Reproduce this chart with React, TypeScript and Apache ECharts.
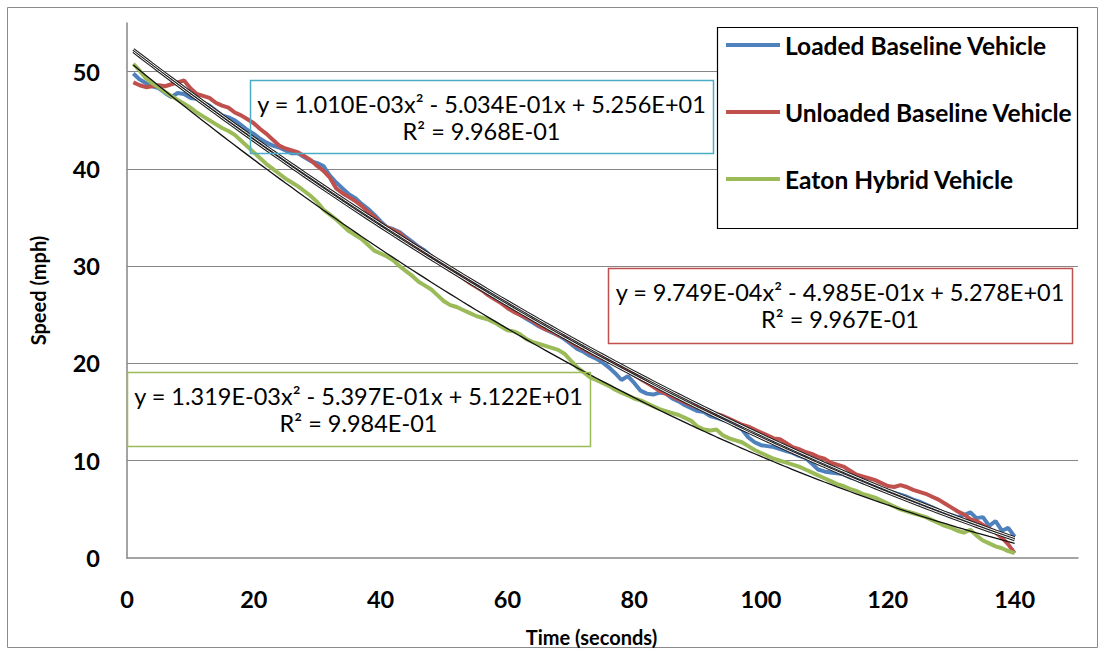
import React, { useEffect, useRef } from "react";
import * as echarts from "echarts";

const timeSeconds = [
  1, 2, 3, 4, 5, 6, 7, 8, 9, 10, 11, 12, 13, 14, 15, 16, 17, 18, 19, 20,
  21, 22, 23, 24, 25, 26, 27, 28, 29, 30, 31, 32, 33, 34, 35, 36, 37, 38, 39, 40,
  41, 42, 43, 44, 45, 46, 47, 48, 49, 50, 51, 52, 53, 54, 55, 56, 57, 58, 59, 60,
  61, 62, 63, 64, 65, 66, 67, 68, 69, 70, 71, 72, 73, 74, 75, 76, 77, 78, 79, 80,
  81, 82, 83, 84, 85, 86, 87, 88, 89, 90, 91, 92, 93, 94, 95, 96, 97, 98, 99, 100,
  101, 102, 103, 104, 105, 106, 107, 108, 109, 110, 111, 112, 113, 114, 115, 116, 117, 118, 119, 120,
  121, 122, 123, 124, 125, 126, 127, 128, 129, 130, 131, 132, 133, 134, 135, 136, 137, 138, 139, 140,
];

const loadedSpeed = [
  49.8, 49.2, 48.8, 48.5, 48.3, 47.8, 47.4, 47.8, 47.7, 47.3, 47.2, 46.8, 46.5, 46.0, 45.5, 45.3, 45.0, 44.5, 44.0, 43.6,
  43.1, 42.7, 42.4, 42.2, 41.9, 41.6, 41.6, 41.2, 40.8, 40.6, 40.3, 39.3, 38.6, 38.0, 37.4, 37.0, 36.4, 35.9, 35.3, 34.6,
  34.0, 33.8, 33.5, 33.0, 32.5, 32.0, 31.6, 31.0, 30.5, 30.1, 29.7, 29.3, 28.9, 28.5, 28.1, 27.6, 27.1, 26.7, 26.3, 25.9,
  25.5, 25.0, 24.6, 24.2, 23.8, 23.5, 23.2, 22.9, 22.5, 22.0, 21.5, 21.2, 20.8, 20.5, 20.1, 19.6, 19.0, 18.3, 18.7, 18.0,
  17.2, 16.9, 16.8, 17.0, 16.9, 16.4, 16.1, 15.7, 15.4, 15.1, 15.0, 14.6, 14.4, 14.2, 14.0, 13.6, 13.2, 12.4, 11.9, 11.6,
  11.5, 11.4, 11.2, 11.0, 10.8, 10.5, 10.3, 9.7, 9.1, 8.9, 8.8, 8.7, 8.6, 8.3, 8.1, 7.8, 7.6, 7.3, 7.1, 6.9,
  6.7, 6.5, 6.3, 6.0, 5.8, 5.5, 5.2, 4.9, 4.6, 4.4, 4.2, 4.4, 4.7, 4.1, 4.2, 3.3, 3.8, 2.8, 3.1, 2.2,
];

const unloadedSpeed = [
  48.9, 48.6, 48.4, 48.5, 48.6, 48.5, 48.7, 48.9, 49.1, 48.3, 47.7, 47.5, 47.3, 46.8, 46.5, 46.3, 45.8, 45.5, 45.1, 44.7,
  44.1, 43.6, 43.0, 42.4, 42.1, 41.9, 41.7, 41.3, 40.9, 40.3, 39.8, 39.1, 38.0, 37.5, 37.1, 36.7, 36.2, 35.6, 35.1, 34.4,
  34.0, 33.7, 33.4, 32.8, 32.3, 31.9, 31.4, 30.9, 30.5, 30.1, 29.6, 29.2, 28.8, 28.3, 27.9, 27.5, 27.0, 26.6, 26.2, 25.7,
  25.3, 25.0, 24.7, 24.4, 23.9, 23.5, 23.3, 22.9, 22.7, 22.2, 21.8, 21.5, 21.1, 20.8, 20.5, 20.3, 20.0, 19.6, 19.2, 18.8,
  18.4, 18.0, 17.6, 17.2, 16.9, 16.6, 16.3, 16.0, 15.7, 15.5, 15.3, 15.0, 14.8, 14.6, 14.3, 14.0, 13.7, 13.5, 13.2, 12.9,
  12.6, 12.3, 12.2, 11.8, 11.4, 11.2, 10.9, 10.7, 10.4, 10.2, 9.8, 9.6, 9.4, 9.0, 8.6, 8.4, 8.2, 8.0, 7.7, 7.4,
  7.3, 7.5, 7.3, 7.0, 6.8, 6.6, 6.3, 6.0, 5.6, 5.2, 4.8, 4.5, 4.0, 3.8, 3.4, 3.0, 2.6, 2.1, 1.4, 0.5,
];

const hybridSpeed = [
  50.8, 50.1, 49.3, 48.8, 48.4, 47.9, 47.5, 47.1, 46.7, 46.3, 45.8, 45.4, 45.0, 44.6, 44.2, 43.9, 43.5, 42.9, 42.3, 41.7,
  41.1, 40.5, 40.0, 39.5, 39.0, 38.6, 38.2, 37.7, 37.2, 36.6, 35.8, 35.3, 34.8, 34.2, 33.6, 33.2, 32.8, 32.2, 31.6, 31.3,
  31.0, 30.6, 30.0, 29.5, 29.0, 28.4, 28.0, 27.6, 27.0, 26.4, 26.0, 25.8, 25.5, 25.2, 24.9, 24.7, 24.5, 24.2, 23.8, 23.4,
  23.3, 23.0, 22.5, 22.2, 22.0, 21.8, 21.6, 21.4, 21.0, 20.3, 19.6, 19.1, 18.6, 18.3, 18.0, 17.7, 17.3, 17.0, 16.7, 16.4,
  16.2, 15.9, 15.6, 15.3, 15.1, 14.9, 14.7, 14.4, 14.1, 13.5, 13.2, 13.1, 13.2, 12.6, 12.3, 12.1, 11.9, 11.5, 11.1, 10.8,
  10.5, 10.2, 10.0, 9.8, 9.6, 9.4, 9.1, 8.8, 8.5, 8.2, 7.9, 7.6, 7.4, 7.1, 6.9, 6.6, 6.4, 6.2, 5.9, 5.6,
  5.3, 5.0, 4.8, 4.6, 4.4, 4.2, 3.9, 3.6, 3.3, 3.1, 2.8, 2.6, 2.9, 2.3, 1.8, 1.5, 1.2, 1.0, 0.7, 0.5,
];

const seriesNames = ["Loaded Baseline Vehicle", "Unloaded Baseline Vehicle", "Eaton Hybrid Vehicle"];
const seriesColors = ["#4F81BD", "#C0504D", "#9BBB59"];
const boxColors = ["#4BACC6", "#C0504D", "#9BBB59"];

// Polynomial trendline coefficients [a, b, c] for y = a x^2 + b x + c (from the chart labels)
const fitCoefficients = [
  [1.01e-3, -5.034e-1, 5.256e1],
  [9.749e-4, -4.985e-1, 5.278e1],
  [1.319e-3, -5.397e-1, 5.122e1],
];
const fitEquations = [
  "y = 1.010E-03x² - 5.034E-01x + 5.256E+01",
  "y = 9.749E-04x² - 4.985E-01x + 5.278E+01",
  "y = 1.319E-03x² - 5.397E-01x + 5.122E+01",
];
const fitRSquared = ["R² = 9.968E-01", "R² = 9.967E-01", "R² = 9.984E-01"];

const xAxisTitle = "Time (seconds)";
const yAxisTitle = "Speed (mph)";

// label box layout (pixels)
const labelBoxes = [
  { x: 250, y: 80, w: 463, h: 73 },
  { x: 608, y: 268, w: 464, h: 75 },
  { x: 127, y: 372, w: 463, h: 74 },
];

export default function App() {
  const ref = useRef<HTMLDivElement>(null);

  useEffect(() => {
    if (!ref.current) return;
    const chart = echarts.init(ref.current, undefined, { renderer: "svg" });
    const speeds = [loadedSpeed, unloadedSpeed, hybridSpeed];

    const dataSeries: any[] = speeds.map((vals, i) => ({
      type: "line",
      name: seriesNames[i],
      data: timeSeconds.map((t, k) => [t, vals[k]]),
      symbol: "none",
      showSymbol: false,
      silent: true,
      lineStyle: { width: 4, color: seriesColors[i] },
      itemStyle: { color: seriesColors[i] },
      z: 2 + i,
    }));

    const trendSeries: any[] = [];
    fitCoefficients.forEach((c, i) => {
      const pts = timeSeconds.map((t) => [t, c[0] * t * t + c[1] * t + c[2]]);
      if (i < 2) {
        trendSeries.push({
          type: "line",
          name: "trend-outer-" + i,
          data: pts,
          symbol: "none",
          silent: true,
          lineStyle: { width: 3, color: "#222222" },
          z: 6,
        });
        trendSeries.push({
          type: "line",
          name: "trend-inner-" + i,
          data: pts,
          symbol: "none",
          silent: true,
          lineStyle: { width: 1, color: "#ffffff" },
          z: 7,
        });
      } else {
        trendSeries.push({
          type: "line",
          name: "trend-" + i,
          data: pts,
          symbol: "none",
          silent: true,
          lineStyle: { width: 1.3, color: "#111111" },
          z: 6,
        });
      }
    });

    const graphics: any[] = [
      {
        type: "rect",
        silent: true,
        z: 0,
        shape: { x: 7.5, y: 7.5, width: 1090, height: 640 },
        style: { fill: "none", stroke: "#8a8a8a", lineWidth: 1 },
      },
      {
        type: "rect",
        silent: true,
        z: 8,
        shape: { x: 717.5, y: 27.5, width: 360, height: 201 },
        style: { fill: "#ffffff", stroke: "#000000", lineWidth: 1.2 },
      },
    ];
    labelBoxes.forEach((b, i) => {
      graphics.push({
        type: "rect",
        silent: true,
        z: 9,
        shape: { x: b.x + 0.5, y: b.y + 0.5, width: b.w, height: b.h },
        style: { fill: "none", stroke: boxColors[i], lineWidth: 1.5 },
      });
      graphics.push({
        type: "text",
        silent: true,
        z: 9,
        x: b.x + b.w / 2,
        y: b.y + 24,
        style: {
          text: fitEquations[i],
          align: "center",
          verticalAlign: "middle",
          fontFamily: "Lato",
          fontSize: 23.5,
          fill: "#000000",
        },
      });
      graphics.push({
        type: "text",
        silent: true,
        z: 9,
        x: b.x + b.w / 2,
        y: b.y + 51,
        style: {
          text: fitRSquared[i],
          align: "center",
          verticalAlign: "middle",
          fontFamily: "Lato",
          fontSize: 23.5,
          fill: "#000000",
        },
      });
    });

    chart.setOption({
      animation: false,
      backgroundColor: "#ffffff",
      grid: { left: 127, top: 23, right: 28, bottom: 96, containLabel: false, outerBoundsMode: "none" },
      legend: {
        data: seriesNames,
        orient: "vertical",
        left: 726,
        top: 32,
        padding: 0,
        itemWidth: 54,
        itemHeight: 4,
        itemGap: 41,
        icon: "rect",
        selectedMode: false,
        z: 10,
        textStyle: {
          fontFamily: "Lato",
          fontWeight: "bold",
          fontSize: 24.5,
          lineHeight: 26,
          color: "#000000",
        },
      },
      xAxis: {
        type: "value",
        min: 0,
        max: 150,
        interval: 20,
        name: xAxisTitle,
        nameLocation: "middle",
        nameGap: 69,
        nameTextStyle: {
          fontFamily: "Lato",
          fontWeight: "bold",
          fontSize: 20,
          color: "#000000",
          padding: [0, 22, 0, 0],
        },
        axisLine: { show: true, onZero: false, lineStyle: { color: "#868686", width: 1.5 } },
        axisTick: { show: false },
        splitLine: { show: false },
        axisLabel: {
          showMaxLabel: false,
          margin: 29,
          fontFamily: "Lato",
          fontWeight: "bold",
          fontSize: 23.5,
          color: "#000000",
          formatter: (v: number) => (v % 20 === 0 ? String(v) : ""),
        },
      },
      yAxis: {
        type: "value",
        min: 0,
        max: 55,
        interval: 10,
        name: yAxisTitle,
        nameLocation: "middle",
        nameGap: 79,
        nameTextStyle: { fontFamily: "Lato", fontWeight: "bold", fontSize: 20, color: "#000000" },
        axisLine: { show: true, lineStyle: { color: "#868686", width: 1.5 } },
        axisTick: { show: false },
        splitLine: {
          show: true,
          showMinLine: false,
          showMaxLine: false,
          lineStyle: { color: "#868686", width: 1.2 },
        },
        axisLabel: {
          showMaxLabel: false,
          margin: 27,
          fontFamily: "Lato",
          fontWeight: "bold",
          fontSize: 23.5,
          color: "#000000",
          formatter: (v: number) => (v % 10 === 0 ? String(v) : ""),
        },
      },
      graphic: { elements: graphics },
      series: [...dataSeries, ...trendSeries],
    });

    return () => chart.dispose();
  }, []);

  return (
    <div
      ref={ref}
      style={{ position: "fixed", left: 0, top: 0, width: 1106, height: 654, background: "#fff" }}
    />
  );
}
